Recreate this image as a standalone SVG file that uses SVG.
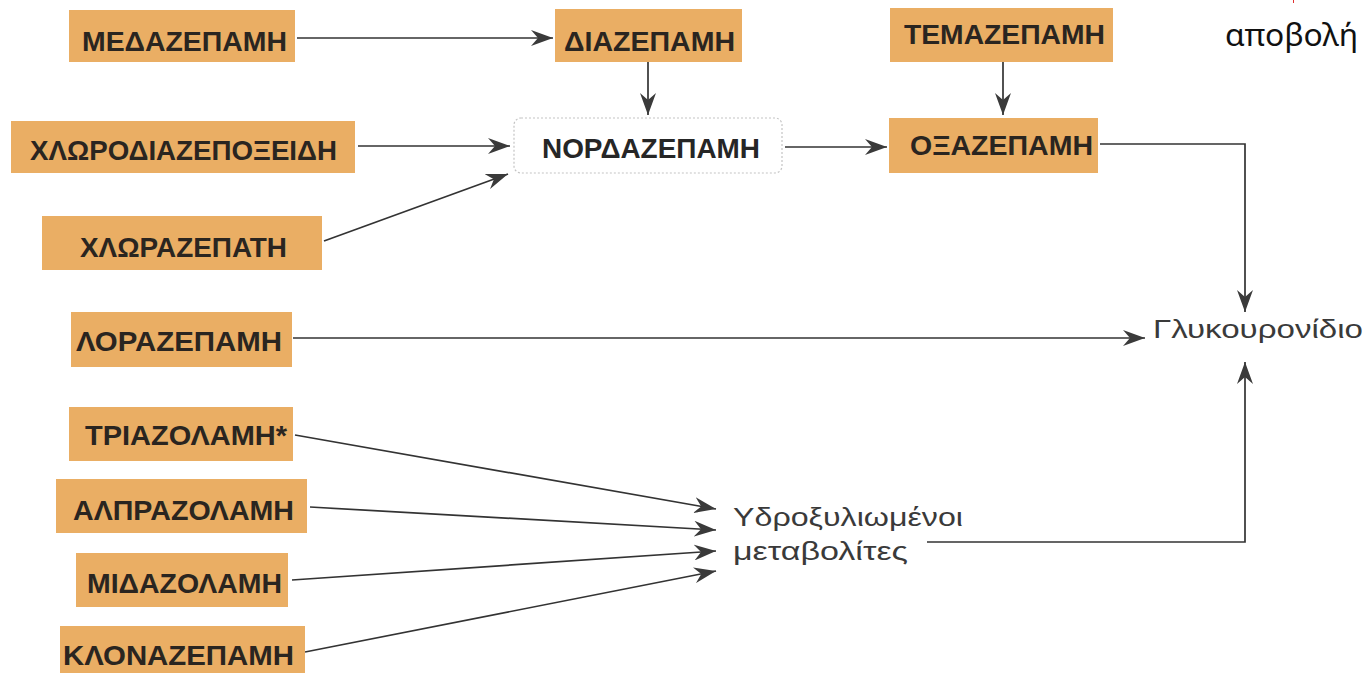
<svg xmlns="http://www.w3.org/2000/svg" width="1367" height="673" viewBox="0 0 1367 673">
<style>
.box{fill:#EAAE64;}
.nbox{fill:#ffffff;stroke:#c4c4c4;stroke-width:1.2;stroke-dasharray:2 2;}
.lbl{font-family:"Liberation Sans",Arial,sans-serif;font-weight:bold;font-size:28px;fill:#2a2520;}
.txt{font-family:"Liberation Sans",Arial,sans-serif;font-size:25px;fill:#3a3a3a;}
.con{fill:none;stroke:#333;stroke-width:1.7;}
.note{font-family:"Noto Sans","Open Sans",sans-serif;font-size:31px;fill:#111;}
</style>
<defs>
<marker id="ah" markerUnits="userSpaceOnUse" markerWidth="22" markerHeight="16" refX="22" refY="8" orient="auto">
<path d="M0,0 L22,8 L0,16 L7,8 z" fill="#3a3a3a"/>
</marker>
</defs>
<rect width="1367" height="673" fill="#ffffff"/>
<g id="connectors">
<line class="con" x1="297" y1="38" x2="553" y2="38" marker-end="url(#ah)"/>
<line class="con" x1="648" y1="62" x2="648" y2="115" marker-end="url(#ah)"/>
<line class="con" x1="358" y1="146" x2="510" y2="146" marker-end="url(#ah)"/>
<line class="con" x1="324" y1="241" x2="508" y2="174" marker-end="url(#ah)"/>
<line class="con" x1="785" y1="147" x2="887" y2="147" marker-end="url(#ah)"/>
<line class="con" x1="1003" y1="62" x2="1003" y2="115" marker-end="url(#ah)"/>
<polyline class="con" points="1100,144 1245,144 1245,312" marker-end="url(#ah)"/>
<line class="con" x1="293" y1="338" x2="1145" y2="338" marker-end="url(#ah)"/>
<polyline class="con" points="927,542 1245,542 1245,362" marker-end="url(#ah)"/>
<line class="con" x1="295" y1="435" x2="716" y2="509" marker-end="url(#ah)"/>
<line class="con" x1="310" y1="507" x2="716" y2="530" marker-end="url(#ah)"/>
<line class="con" x1="292" y1="580" x2="716" y2="551" marker-end="url(#ah)"/>
<line class="con" x1="305" y1="652" x2="716" y2="571" marker-end="url(#ah)"/>
</g>
<g id="medazepam"><rect class="box" x="69" y="10" width="226" height="52"/><text class="lbl" x="82" y="51" textLength="205" lengthAdjust="spacingAndGlyphs">ΜΕΔΑΖΕΠΑΜΗ</text></g>
<g id="chlordiazepoxide"><rect class="box" x="11" y="121" width="344" height="52"/><text class="lbl" x="30" y="160" textLength="307" lengthAdjust="spacingAndGlyphs">ΧΛΩΡΟΔΙΑΖΕΠΟΞΕΙΔΗ</text></g>
<g id="chlorazepate"><rect class="box" x="42" y="216" width="280" height="54"/><text class="lbl" x="80" y="257" textLength="207" lengthAdjust="spacingAndGlyphs">ΧΛΩΡΑΖΕΠΑΤΗ</text></g>
<g id="lorazepam"><rect class="box" x="71" y="312" width="221" height="55"/><text class="lbl" x="76" y="351" textLength="206" lengthAdjust="spacingAndGlyphs">ΛΟΡΑΖΕΠΑΜΗ</text></g>
<g id="triazolam"><rect class="box" x="69" y="407" width="224" height="54"/><text class="lbl" x="85" y="445" textLength="202" lengthAdjust="spacingAndGlyphs">ΤΡΙΑΖΟΛΑΜΗ*</text></g>
<g id="alprazolam"><rect class="box" x="56" y="479" width="251" height="54"/><text class="lbl" x="73" y="520" textLength="221" lengthAdjust="spacingAndGlyphs">ΑΛΠΡΑΖΟΛΑΜΗ</text></g>
<g id="midazolam"><rect class="box" x="76" y="553" width="212" height="54"/><text class="lbl" x="87" y="593" textLength="195" lengthAdjust="spacingAndGlyphs">ΜΙΔΑΖΟΛΑΜΗ</text></g>
<g id="clonazepam"><rect class="box" x="60" y="626" width="245" height="47"/><text class="lbl" x="63" y="665" textLength="231" lengthAdjust="spacingAndGlyphs">ΚΛΟΝΑΖΕΠΑΜΗ</text></g>
<g id="diazepam"><rect class="box" x="555" y="9" width="187" height="53"/><text class="lbl" x="564" y="51" textLength="171" lengthAdjust="spacingAndGlyphs">ΔΙΑΖΕΠΑΜΗ</text></g>
<g id="nordazepam"><rect class="nbox" x="514" y="118" width="268" height="55" rx="7"/><text class="lbl" x="542" y="158" textLength="218" lengthAdjust="spacingAndGlyphs" style="fill:#262626">ΝΟΡΔΑΖΕΠΑΜΗ</text></g>
<g id="temazepam"><rect class="box" x="890" y="8" width="223" height="54"/><text class="lbl" x="904" y="44" textLength="201" lengthAdjust="spacingAndGlyphs">ΤΕΜΑΖΕΠΑΜΗ</text></g>
<g id="oxazepam"><rect class="box" x="889" y="118" width="209" height="55"/><text class="lbl" x="910" y="155" textLength="183" lengthAdjust="spacingAndGlyphs">ΟΞΑΖΕΠΑΜΗ</text></g>
<g id="glucuronide"><text class="txt" x="1153" y="338" textLength="210" lengthAdjust="spacingAndGlyphs">Γλυκουρονίδιο</text></g>
<g id="hydroxylated"><text class="txt" x="733" y="526" textLength="230" lengthAdjust="spacingAndGlyphs">Υδροξυλιωμένοι</text><text class="txt" x="733" y="560" textLength="175" lengthAdjust="spacingAndGlyphs">μεταβολίτες</text></g>
<g id="elimination"><text class="note" x="1225" y="46" textLength="133" lengthAdjust="spacingAndGlyphs">αποβολή</text></g>
<line x1="1293.5" y1="0" x2="1293.5" y2="3" stroke="#e03030" stroke-width="1"/>
</svg>
